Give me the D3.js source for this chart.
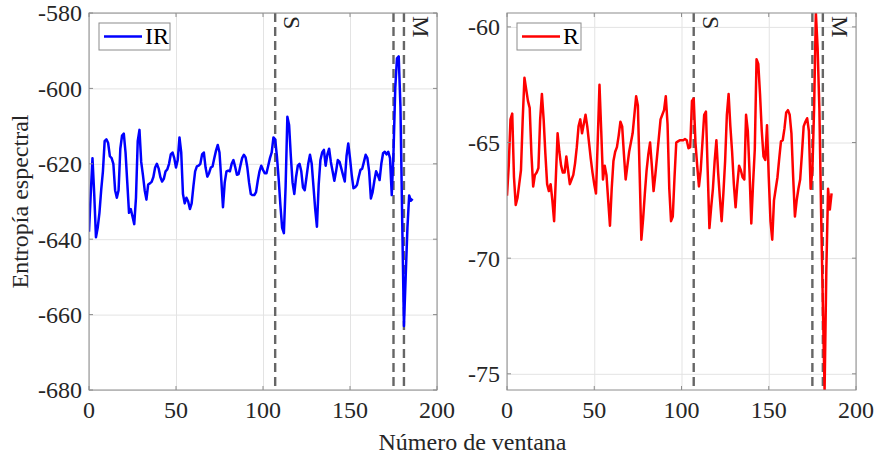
<!DOCTYPE html>
<html>
<head>
<meta charset="utf-8">
<script src="https://cdn.jsdelivr.net/npm/d3@7"></script>
<style>
  body { margin: 0; background: #fff; }
  text { font-family: "Liberation Serif", "Times New Roman", serif; }
</style>
</head>
<body>
<svg id="chart" width="875" height="459"></svg>
<script>
// window index 0..186
let windows = d3.range(0, 187);

let irValues = [
  -638, -628, -618.5, -628, -639.5, -637, -633, -627, -622, -614,
  -613.5, -614.5, -618, -618.5, -620, -627, -629, -627, -616, -612.5,
  -612, -617, -625, -633, -632, -634, -636, -629, -614, -611,
  -619.5, -623, -627, -629.5, -625.5, -625.2, -624.8, -623.5, -621, -620,
  -621.2, -623.5, -624.7, -624, -622, -621.5, -620, -617.5, -617, -618.5,
  -621, -619, -613, -617, -628, -630.5, -629, -630, -632, -630.5,
  -626, -622, -620.7, -620.5, -620, -617.5, -617, -621, -623.4, -622.5,
  -621, -620.7, -618.5, -616.5, -615, -617, -624, -631.5, -625, -622,
  -621.8, -622, -620, -619, -620.8, -622.9, -622.7, -620.5, -618.5, -617.6,
  -618.3, -621, -625, -628, -628.3, -628.3, -627.5, -624.5, -622, -620.5,
  -621.6, -622.5, -622.5, -620.5, -618.5, -617, -613, -613.5, -618, -624,
  -631, -637, -638.4, -626, -607.5, -609.7, -618, -625, -628, -623.5,
  -620.5, -620, -622, -626.3, -627, -623.5, -620, -617.6, -620, -626,
  -632, -636.7, -625.6, -619, -617, -616.3, -620.5, -617.5, -616, -619.5,
  -622, -624.5, -622, -619, -619.5, -621.2, -623, -624.7, -618, -614.6,
  -618.5, -623, -626.5, -626.2, -625.6, -623.5, -621.6, -621.3, -619.5, -617.6,
  -618.5, -622, -629.2, -627.5, -624.5, -622, -623, -624.3, -620, -617.2,
  -616.8, -617.5, -616.8, -618.5, -628.3, -617, -600, -592, -591.5, -605,
  -635, -663, -650, -637, -628.4, -629.8, -629.3
];

let rValues = [
  -67.3, -66, -64, -63.75, -66.5, -67.7, -67.4, -66.8, -66.2, -64,
  -62.2, -62.7, -63.2, -63.5, -65.5, -66.9, -66.4, -66.3, -66.1, -64,
  -62.9, -64, -65.5, -66.8, -67.1, -66.8, -67.5, -68.4, -66.5, -64.6,
  -65.4, -66, -66.3, -66.3, -65.6, -66.2, -66.8, -66.6, -66.4, -65.9,
  -65.2, -64.3, -64, -64.6, -64.2, -63.8, -64.3, -65, -65.7, -66.3,
  -66.8, -67.2, -64.9, -62.5, -64.5, -66.6, -66, -66.4, -67.5, -68.6,
  -67, -65.8, -65.4, -65.2, -64.7, -64.1, -64.3, -65.5, -66.6, -66,
  -65.4, -65, -64.6, -63.8, -63, -63.4, -66.3, -69.2, -68.3, -67.2,
  -66.2, -65.5, -65, -66, -67.1, -66.4, -65.6, -64.8, -64, -63.8,
  -63.6, -63, -64.2, -67, -68.4, -68.2, -66.5, -65, -64.95, -64.9,
  -64.9, -64.9, -64.85, -64.9, -65.25, -65.2, -63.2, -63.1, -65, -66,
  -66.9, -66.2, -65, -63.8, -63.66, -66.2, -68.7, -67.8, -67, -65.8,
  -64.9, -66.3, -67.4, -68.4, -67.2, -65.8, -63.8, -62.9, -64.3, -65.4,
  -66.8, -67.8, -66.8, -66, -66.2, -66.5, -66.6, -63.8, -64.5, -66.3,
  -68.5, -66.8, -65.3, -61.4, -61.6, -62.9, -64.5, -65.6, -65.75, -64.25,
  -66.5, -68.4, -69.2, -67.5, -67, -66.5, -65.7, -64.95, -64.9, -64.4,
  -63.7, -63.6, -63.8, -64.6, -66.5, -68.2, -67.5, -67, -66.6, -65.5,
  -64.3, -64.1, -63.95, -64.5, -67, -66.2, -63.5, -59.4, -60.9, -63.5,
  -68, -72, -75.7, -70.5, -67, -67.9, -67.2
];

let xTicks = [0, 50, 100, 150, 200];
let irTicks = [-680, -660, -640, -620, -600, -580];
let rTicks = [-75, -70, -65, -60];
let eventLines = [107, 175, 181];
let eventLabels = [{ x: 107, label: "S" }, { x: 181, label: "M" }];

let canvas = d3.select("#chart");

let plotTop = 13;
let plotBottom = 390;
let textColor = "#262626";

function drawPanel(id, left, right, values, yDomain, yTicks, color, legendName, legendWidth) {
    let x = d3.scaleLinear().domain([0, 200]).range([left, right]);
    let y = d3.scaleLinear().domain(yDomain).range([plotBottom, plotTop]);
    let w = right - left;
    let h = plotBottom - plotTop;

    let g = canvas.append("g").attr("id", id);

    // grid
    g.append("g")
        .attr("transform", "translate(0," + plotBottom + ")")
        .call(d3.axisBottom(x).tickValues(xTicks).tickSize(-h).tickFormat(""))
        .call(a => a.select(".domain").remove())
        .selectAll("line").attr("stroke", "#e3e3e3");
    g.append("g")
        .attr("transform", "translate(" + left + ",0)")
        .call(d3.axisLeft(y).tickValues(yTicks).tickSize(-w).tickFormat(""))
        .call(a => a.select(".domain").remove())
        .selectAll("line").attr("stroke", "#e3e3e3");

    // clip
    canvas.append("clipPath").attr("id", id + "Clip")
        .append("rect").attr("x", left).attr("y", plotTop).attr("width", w).attr("height", h);

    // event lines
    g.selectAll(".event").data(eventLines).enter()
        .append("line")
        .attr("x1", d => x(d)).attr("x2", d => x(d))
        .attr("y1", plotTop).attr("y2", plotBottom)
        .attr("stroke", "#666666")
        .attr("stroke-width", 2.4)
        .attr("stroke-dasharray", "9,5");

    let line = d3.line()
        .x((d, i) => x(windows[i]))
        .y(d => y(d));

    g.append("path")
        .datum(values)
        .attr("clip-path", "url(#" + id + "Clip)")
        .attr("fill", "none")
        .attr("stroke", color)
        .attr("stroke-width", 2.5)
        .attr("stroke-linejoin", "round")
        .attr("d", line);

    // box
    g.append("rect")
        .attr("x", left).attr("y", plotTop).attr("width", w).attr("height", h)
        .attr("fill", "none").attr("stroke", "#8c8c8c").attr("stroke-width", 1);

    // inward ticks on all sides
    let tickLen = 4;
    xTicks.forEach(t => {
        g.append("line").attr("x1", x(t)).attr("x2", x(t)).attr("y1", plotBottom).attr("y2", plotBottom - tickLen).attr("stroke", "#8c8c8c");
        g.append("line").attr("x1", x(t)).attr("x2", x(t)).attr("y1", plotTop).attr("y2", plotTop + tickLen).attr("stroke", "#8c8c8c");
    });
    yTicks.forEach(t => {
        g.append("line").attr("x1", left).attr("x2", left + tickLen).attr("y1", y(t)).attr("y2", y(t)).attr("stroke", "#8c8c8c");
        g.append("line").attr("x1", right).attr("x2", right - tickLen).attr("y1", y(t)).attr("y2", y(t)).attr("stroke", "#8c8c8c");
    });

    // tick labels
    g.selectAll(".xlab").data(xTicks).enter()
        .append("text")
        .attr("x", d => x(d))
        .attr("y", plotBottom + 28)
        .attr("text-anchor", "middle")
        .attr("font-size", 24)
        .attr("fill", textColor)
        .text(d => d);
    g.selectAll(".ylab").data(yTicks).enter()
        .append("text")
        .attr("x", left - 7)
        .attr("y", d => y(d))
        .attr("dy", "0.35em")
        .attr("text-anchor", "end")
        .attr("font-size", 24)
        .attr("fill", textColor)
        .text(d => d);

    // event labels
    g.selectAll(".evlab").data(eventLabels).enter()
        .append("text")
        .attr("transform", d => "translate(" + (x(d.x) + 9) + "," + (plotTop + 3) + ") rotate(90)")
        .attr("font-size", 24)
        .attr("fill", textColor)
        .text(d => d.label);

    // legend
    let lx = left + 10;
    let ly = plotTop + 10;
    g.append("rect")
        .attr("x", lx).attr("y", ly).attr("width", legendWidth).attr("height", 27)
        .attr("fill", "#fff").attr("stroke", "#8c8c8c").attr("stroke-width", 1);
    g.append("line")
        .attr("x1", lx + 5).attr("x2", lx + 43)
        .attr("y1", ly + 13.5).attr("y2", ly + 13.5)
        .attr("stroke", color).attr("stroke-width", 2.5);
    g.append("text")
        .attr("x", lx + 46).attr("y", ly + 21)
        .attr("font-size", 24)
        .attr("fill", "#000")
        .text(legendName);
}

drawPanel("irPanel", 89, 437, irValues, [-680, -580], irTicks, "#0000ff", "IR", 71);
drawPanel("rPanel", 507, 856, rValues, d3.extent(rValues), rTicks, "#ff0000", "R", 64);

canvas.append("text")
    .attr("transform", "translate(28," + ((plotTop + plotBottom) / 2) + ") rotate(-90)")
    .attr("text-anchor", "middle")
    .attr("font-size", 24)
    .attr("fill", textColor)
    .text("Entropía espectral");

canvas.append("text")
    .attr("x", (89 + 856) / 2)
    .attr("y", 450)
    .attr("text-anchor", "middle")
    .attr("font-size", 24)
    .attr("fill", textColor)
    .text("Número de ventana");
</script>
</body>
</html>
